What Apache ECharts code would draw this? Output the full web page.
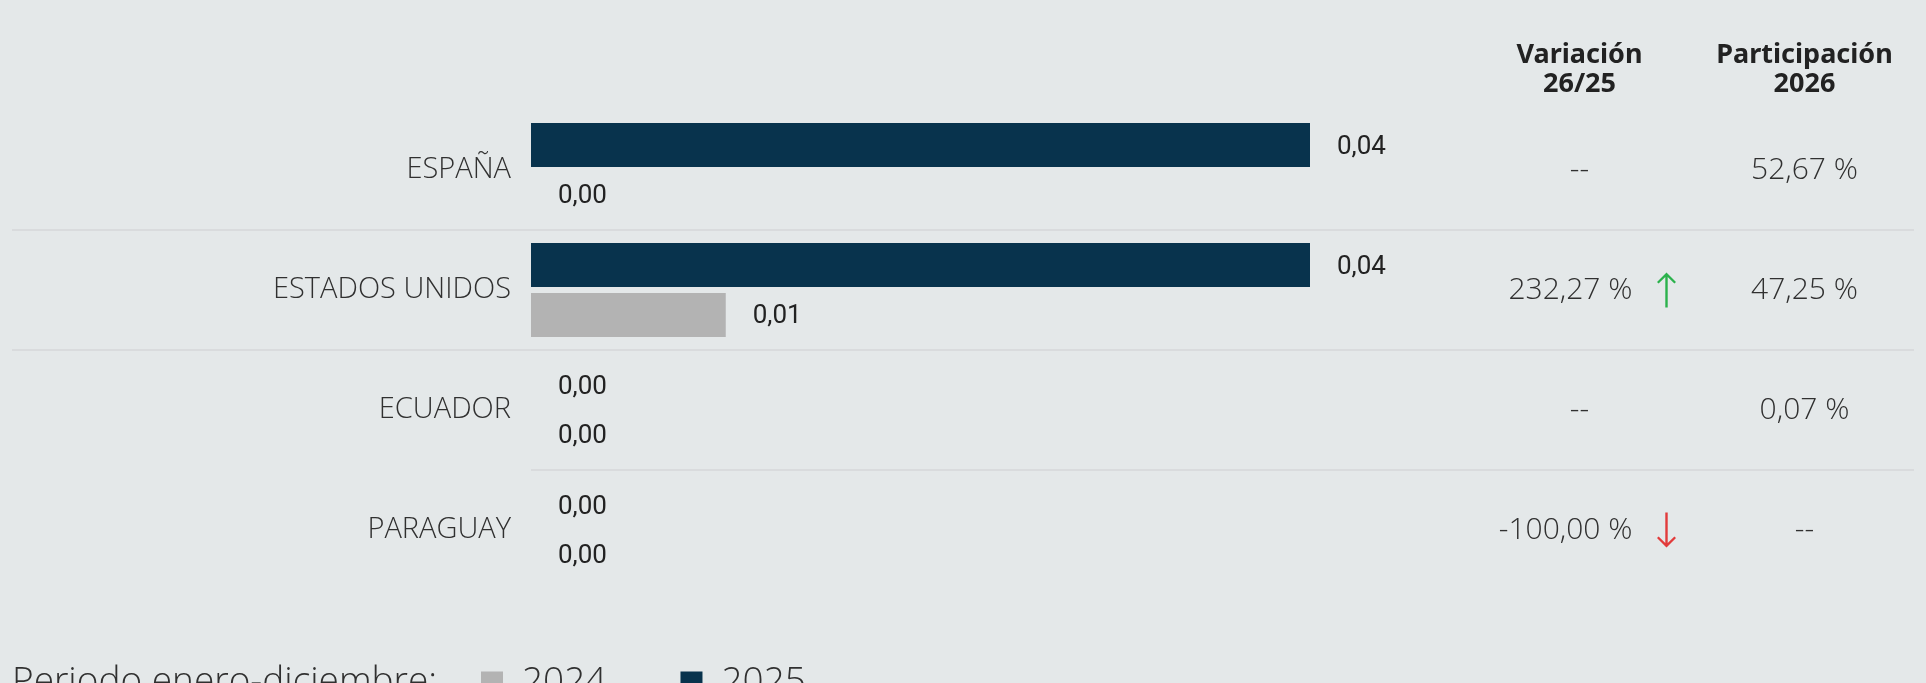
<!DOCTYPE html>
<html><head><meta charset="utf-8">
<script src="https://cdn.jsdelivr.net/npm/echarts@6/dist/echarts.min.js"></script>
<style>html,body{margin:0;padding:0;background:#e4e8e9;} #c{width:1926px;height:683px;}</style>
</head><body><div id="c"></div>
<script>
// ---- data ----
const categories = ['ESPAÑA', 'ESTADOS UNIDOS', 'ECUADOR', 'PARAGUAY'];
const values2025 = [0.04, 0.04, 0.00, 0.00];
const values2024 = [0.00, 0.01, 0.00, 0.00];
const variacion = ['--', '232,27 %', '--', '-100,00 %'];
const variacionDir = [null, 'up', null, 'down'];
const participacion = ['52,67 %', '47,25 %', '0,07 %', '--'];
const columnHeaders = ['Variación\n26/25', 'Participación\n2026'];
const seriesNames = ['2024', '2025'];
const legendTitle = 'Periodo enero-diciembre:';

// ---- styles ----
const DARK = '#08334d', GRAY = '#b3b3b3', TXT = '#303030';
const UP = '#2bb24c', DOWN = '#e23b3b';
const ARROW_UP = 'path://M9.5,0 L19,9.5 L17.4,11.1 L10.7,4.4 L10.7,35 L8.3,35 L8.3,4.4 L1.6,11.1 L0,9.5 Z';
const ARROW_DOWN = 'path://M9.5,35 L19,25.5 L17.4,23.9 L10.7,30.6 L10.7,0 L8.3,0 L8.3,30.6 L1.6,23.9 L0,25.5 Z';
const fmt = v => v.toFixed(2).replace('.', ',');

const chart = echarts.init(document.getElementById('c'), null, {renderer: 'canvas'});

const barLabel = {
  show: true, position: 'right', distance: 27, offset: [0, 2],
  fontFamily: 'Roboto', fontSize: 26, color: '#222',
  formatter: p => fmt(p.value)
};
const cellFont = {fontFamily: 'Open Sans', fontWeight: 300, fontSize: 30, color: TXT};

const option = {
  backgroundColor: '#e4e8e9',
  animation: false,
  title: {
    text: legendTitle, left: 12, top: 664, padding: 0,
    textStyle: {fontFamily: 'Open Sans', fontWeight: 300, fontSize: 37, color: TXT}
  },
  legend: {
    data: seriesNames, left: 481, top: 664, padding: 0,
    icon: 'rect', itemWidth: 22, itemHeight: 22, itemGap: 74,
    selectedMode: false,
    textStyle: {fontFamily: 'Open Sans', fontWeight: 300, fontSize: 37, color: TXT, padding: [0, 0, 0, 14]}
  },
  grid: [
    {left: 531, right: 616, top: 110, bottom: 93},
    {left: 1467, right: 9, top: 110, bottom: 93}
  ],
  xAxis: [
    {gridIndex: 0, type: 'value', min: 0, max: 0.04, show: false},
    {gridIndex: 1, type: 'category', data: columnHeaders, position: 'top',
     axisLine: {show: false}, axisTick: {show: false}, splitLine: {show: false},
     axisLabel: {fontFamily: 'Noto Sans', fontWeight: 'bold', fontSize: 27, lineHeight: 29,
                 color: '#222', margin: 11, interval: 0}}
  ],
  yAxis: [
    {gridIndex: 0, type: 'category', data: categories, inverse: true,
     axisLine: {show: false}, axisTick: {show: false}, splitLine: {show: false},
     axisLabel: {fontFamily: 'Open Sans', fontWeight: 300, fontSize: 29, color: TXT, margin: 20}},
    {gridIndex: 1, type: 'category', data: categories, inverse: true, show: false}
  ],
  series: [
    {name: '2025', type: 'bar', xAxisIndex: 0, yAxisIndex: 0, data: values2025,
     barWidth: 44, barGap: '13.6%', itemStyle: {color: DARK}, label: barLabel},
    {name: '2024', type: 'bar', xAxisIndex: 0, yAxisIndex: 0, data: values2024,
     barWidth: 44, barGap: '13.6%', itemStyle: {color: GRAY}, label: barLabel},
    {name: 'variacion', type: 'scatter', xAxisIndex: 1, yAxisIndex: 1, symbolSize: 0,
     silent: true, itemStyle: {opacity: 1},
     data: variacion.map((t, i) => ({
       value: [0, i],
       label: variacionDir[i] ? {align: 'right', offset: [53, 0]} : {align: 'center', offset: [0, 0]}
     })),
     label: Object.assign({show: true, position: 'inside', opacity: 1,
             formatter: p => variacion[p.dataIndex]}, cellFont)},
    {name: 'flechas', type: 'scatter', xAxisIndex: 1, yAxisIndex: 1, silent: true,
     symbolSize: [19, 35], symbolOffset: [87, 0],
     data: variacionDir.map((d, i) => d ? {
       value: [0, i], symbol: d === 'up' ? ARROW_UP : ARROW_DOWN,
       itemStyle: {color: d === 'up' ? UP : DOWN, opacity: 1}
     } : null).filter(x => x)},
    {name: 'participacion', type: 'scatter', xAxisIndex: 1, yAxisIndex: 1, symbolSize: 0,
     silent: true, itemStyle: {opacity: 1},
     data: participacion.map((t, i) => [1, i]),
     label: Object.assign({show: true, position: 'inside', align: 'center', opacity: 1,
             formatter: p => participacion[p.dataIndex]}, cellFont)}
  ]
};
chart.setOption(option);

// separators between category rows
const c0 = chart.convertToPixel({yAxisIndex: 0}, 0);
const c1 = chart.convertToPixel({yAxisIndex: 0}, 1);
const band = c1 - c0;
const gridLeftPx = chart.convertToPixel({xAxisIndex: 0}, 0);
const lines = [];
for (let i = 1; i < categories.length; i++) {
  const y = Math.round(chart.convertToPixel({yAxisIndex: 0}, i) - band / 2);
  lines.push({
    type: 'line', z: -1, silent: true,
    shape: {x1: i < categories.length - 1 ? 12 : gridLeftPx, y1: y, x2: 1914, y2: y},
    style: {stroke: '#d9dbdd', lineWidth: 2}
  });
}
chart.setOption({graphic: lines});
</script>
</body></html>
